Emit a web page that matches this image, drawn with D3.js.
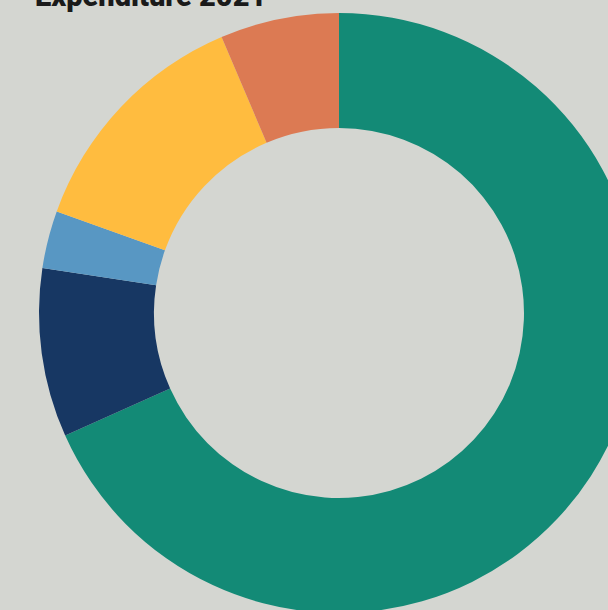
<!DOCTYPE html>
<html>
<head>
<meta charset="utf-8">
<script src="https://cdn.jsdelivr.net/npm/d3@7"></script>
<style>
  html, body { margin: 0; padding: 0; background: #d4d6d1; overflow: hidden; }
  svg { display: block; }
</style>
</head>
<body>
<div id="chart"></div>
<script>
var categories = ["Staff", "Operations", "Research", "Programmes", "Other"];
var values = [68.3, 9.1, 3.1, 13.1, 6.4];
var colors = ["#138a76", "#173763", "#5897c3", "#ffbc3f", "#dc7a53"];

var width = 608, height = 610;
var cx = 339, cy = 313;
var outerR = 300, innerR = 185;

var svg = d3.select("#chart").append("svg")
  .attr("width", width)
  .attr("height", height);

svg.append("rect")
  .attr("width", width)
  .attr("height", height)
  .attr("fill", "#d4d6d1");

var data = categories.map(function (c, i) { return { name: c, value: values[i] }; });

var pie = d3.pie()
  .sort(null)
  .value(function (d) { return d.value; });

var arc = d3.arc()
  .innerRadius(innerR)
  .outerRadius(outerR);

var color = d3.scaleOrdinal().domain(categories).range(colors);

svg.append("g")
  .attr("transform", "translate(" + cx + "," + cy + ")")
  .selectAll("path")
  .data(pie(data))
  .enter()
  .append("path")
  .attr("d", arc)
  .attr("fill", function (d) { return color(d.data.name); });

// title, mostly above the top edge like the reference
svg.append("text")
  .attr("x", 35)
  .attr("y", 6)
  .style("font-family", "Roboto, sans-serif")
  .style("font-weight", 900)
  .style("font-size", "29px")
  .style("fill", "#1a1a1a")
  .text("Expenditure 2021");
</script>
</body>
</html>
